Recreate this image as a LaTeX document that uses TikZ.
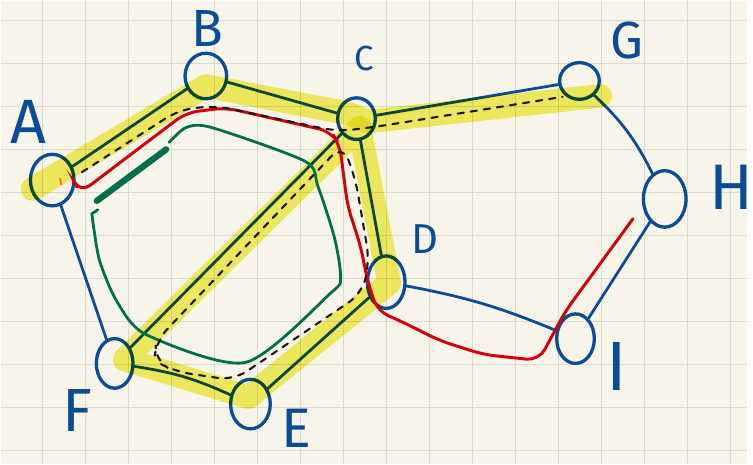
\documentclass[tikz,border=0pt]{standalone}
\usepackage{fontspec}
\setsansfont{Fira Sans}
\usetikzlibrary{shapes.geometric}
\definecolor{paper}{HTML}{F7F5EA}
\definecolor{gridgray}{HTML}{DCD9CE}
\definecolor{penblue}{HTML}{0B4C96}
\definecolor{hiyellow}{HTML}{F4F065}
\definecolor{penred}{HTML}{D6000A}
\definecolor{pengreen}{HTML}{00704A}
\begin{document}
\begin{tikzpicture}[
    x=0.02cm, y=-0.02cm,
    every node/.style={font=\sffamily},
    vtx/.style={ellipse, draw=penblue, line width=1.9pt, inner sep=0pt},
    edge/.style={draw=penblue, line width=1.6pt, line cap=round},
    lbl/.style={text=penblue, inner sep=0pt, font=\sffamily\fontsize{#1}{#1}\selectfont},
    hili/.style={draw=hiyellow, line width=13.5pt, line cap=round, line join=round},
    route/.style={draw=black!90, line width=1.2pt, dash pattern=on 3.6pt off 4pt,
                  line cap=round, rounded corners=9pt},
    redpen/.style={draw=penred, line width=1.7pt, line cap=round, rounded corners=7pt},
    greenpen/.style={draw=pengreen, line width=1.6pt, line cap=round},
]
% ── Papel cuadriculado ──
\fill[paper] (0,0) rectangle (753,467);
\foreach \gx in {0,...,16}
    \draw[gridgray, line width=0.8pt] ({42+43.4*\gx},0) -- ({42+43.4*\gx},467);
\foreach \gy in {0,...,10}
    \draw[gridgray, line width=0.8pt] (0,{20+43.4*\gy}) -- (753,{20+43.4*\gy});

% ── Vértices ──
\node[vtx, minimum width=0.88cm, minimum height=1.04cm] (A) at (52,181) {};
\node[vtx, minimum width=0.84cm, minimum height=0.92cm] (B) at (207,76) {};
\node[vtx, minimum width=0.76cm, minimum height=0.84cm] (C) at (359,119) {};
\node[vtx, minimum width=0.76cm, minimum height=1.06cm] (D) at (389,284) {};
\node[vtx, minimum width=0.80cm, minimum height=1.00cm] (E) at (252,407) {};
\node[vtx, minimum width=0.74cm, minimum height=1.00cm] (F) at (115,366) {};
\node[vtx, minimum width=0.80cm, minimum height=0.74cm] (G) at (584,81) {};
\node[vtx, minimum width=0.86cm, minimum height=1.14cm] (H) at (670,200) {};
\node[vtx, minimum width=0.76cm, minimum height=1.00cm] (I) at (580,341) {};

% ── Etiquetas ──
\node[lbl=36] (lA) at (28,122) {A};
\node[lbl=30] (lB) at (209,28) {B};
\node[lbl=20] (lC) at (367,58) {C};
\node[lbl=24] (lD) at (428,241) {D};
\node[lbl=32] (lE) at (298,431) {E};
\node[lbl=35] (lF) at (77,413) {F};
\node[lbl=30] (lG) at (632,40) {G};
\node[lbl=37] (lH) at (737,188) {H};
\node[lbl=40] (lI) at (622,369) {I};

% ── Aristas ──
\draw[edge] (A) -- (B);
\draw[edge] (B) -- (C);
\draw[edge] (C) -- (G);
\draw[edge] (G) to[bend left=10] (H);
\draw[edge] (H) -- (I);
\draw[edge] (D) to[bend left=6] (I);
\draw[edge] (D) -- (E);
\draw[edge] (E) to[bend right=8] (F);
\draw[edge] (F) -- (A);
\draw[edge] (C) -- (F);
\draw[edge] (C) -- (D);

% ── Resaltado amarillo ──
\begin{scope}[blend mode=multiply]
\draw[hili] (32,190) -- (207,86) -- (352,114) -- (370,122) -- (605,96);
\draw[hili] (362,128) -- (125,362) -- (250,400) -- (392,285) -- cycle;
\end{scope}

% ── Recorrido rojo ──
\draw[redpen] (77,188) -- (80,194) -- (187,113) -- (227,108) -- (333,132)
    -- (342,145) -- (350,207) -- (363,247) -- (370,282) -- (380,313)
    -- (403,323) -- (443,343) -- (487,357) -- (543,363) -- (570,313) -- (638,220);
\draw[orange!80!red, line width=0.9pt] (60,179) -- (61,186);

% ── Ciclo verde ──
\draw[pengreen, line width=3.6pt, line cap=round] (97,202) -- (167,150);
\draw[greenpen] plot[smooth, tension=0.45] coordinates {
    (170,143) (187,128) (213,128) (307,162) (320,187) (337,240) (343,280)
    (333,295) (247,365) (147,337) (117,303) (100,263) (94,230) (92,215)}
    -- (98,211);

% ── Caminos punteados ──
\draw[route] (82,173) -- (180,110) -- (217,106) -- (340,132) -- (380,127) -- (567,97);
\draw[route] (345,145) -- (157,343) -- (155,363) -- (175,374) -- (235,383)
    -- (365,295) -- (372,262) -- (358,180) -- cycle;
\end{tikzpicture}
\end{document}
